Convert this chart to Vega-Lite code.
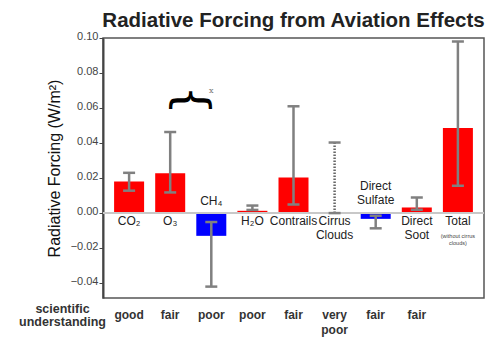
{
  "$schema": "https://vega.github.io/schema/vega-lite/v6.json",
  "autosize": "none",
  "width": 381,
  "height": 260,
  "padding": {"left": 103, "top": 38, "right": 9, "bottom": 41},
  "background": "white",
  "title": {
    "text": "Radiative Forcing from Aviation Effects",
    "fontSize": 20.5,
    "fontWeight": "bold",
    "font": "Liberation Sans",
    "color": "#222222",
    "anchor": "middle",
    "offset": -1
  },
  "config": {
    "view": {"stroke": "#555555", "strokeWidth": 1.5},
    "font": "Liberation Sans",
    "axisY": {"labelOverlap": false, "labelSeparation": 0, "labelFlush": false, "tickCount": 8}
  },
  "data": {
    "values": [
      {"cat": "CO2", "label": "CO₂", "value": 0.018, "lo": 0.0128, "hi": 0.023, "und": "good"},
      {"cat": "O3", "label": "O₃", "value": 0.0228, "lo": 0.0118, "hi": 0.0463, "und": "fair"},
      {"cat": "CH4", "label": "CH₄", "value": -0.013, "lo": -0.042, "hi": -0.0051, "und": "poor"},
      {"cat": "H2O", "label": "H₂O", "value": 0.0013, "lo": 0.0018, "hi": 0.0043, "und": "poor"},
      {"cat": "Contrails", "label": "Contrails", "value": 0.0203, "lo": 0.0049, "hi": 0.061, "und": "fair"},
      {"cat": "Cirrus", "label": ["Cirrus", "Clouds"], "value": null, "lo": 0, "hi": 0.0403, "und": ["very", "poor"]},
      {"cat": "Sulfate", "label": ["Direct", "Sulfate"], "value": -0.0033, "lo": -0.0087, "hi": -0.0015, "und": "fair"},
      {"cat": "Soot", "label": ["Direct", "Soot"], "value": 0.0032, "lo": 0.0019, "hi": 0.0089, "und": "fair"},
      {"cat": "Total", "label": "Total", "value": 0.0486, "lo": 0.0156, "hi": 0.098, "und": null, "note": ["(without cirrus", "clouds)"]}
    ]
  },
  "encoding": {
    "x": {
      "field": "cat",
      "type": "nominal",
      "sort": null,
      "scale": {"domain": ["CO2", "O3", "CH4", "H2O", "Contrails", "Cirrus", "Sulfate", "Soot", "Total"], "paddingInner": 0.27, "paddingOuter": 0.27},
      "axis": {
        "orient": "bottom",
        "labels": false,
        "ticks": false,
        "domain": false,
        "title": ["scientific", "understanding"],
        "titleFontSize": 12.5,
        "titleFontWeight": "bold",
        "titleColor": "#333333",
        "titleAlign": "center",
        "titleAnchor": "start",
        "titleBaseline": "top",
        "titleLineHeight": 13,
        "titleX": -41,
        "titleY": 4
      }
    }
  },
  "layer": [
    {
      "transform": [{"filter": "datum.value != null"}],
      "mark": {"type": "bar"},
      "encoding": {
        "y": {"field": "value", "type": "quantitative", "scale": {"domain": [-0.0485, 0.1], "nice": false, "zero": false},
          "axis": {
            "values": [-0.04, -0.02, 0, 0.02, 0.04, 0.06, 0.08, 0.1],
            "format": ".2f",
            "grid": false,
            "labelOverlap": false,
            "domainColor": "#444444",
            "domainWidth": 2,
            "tickColor": "#444444",
            "tickSize": 4,
            "labelColor": "#444444",
            "labelFontSize": 11,
            "labelPadding": 1,
            "labelOffset": -2,
            "title": "Radiative Forcing (W/m²)",
            "titleFontSize": 16,
            "titleFontWeight": "normal",
            "titleColor": "#111111",
            "titlePadding": 8
          }},
        "y2": {"datum": 0},
        "color": {"condition": {"test": "datum.value < 0", "value": "#0000ff"}, "value": "#ff0000"}
      }
    },
    {
      "mark": {"type": "rule", "color": "#c8c8c8", "strokeWidth": 2},
      "encoding": {"x": null, "y": {"datum": 0, "type": "quantitative"}}
    },
    {
      "mark": {"type": "rule", "strokeWidth": 2.5},
      "encoding": {
        "y": {"field": "lo", "type": "quantitative"},
        "y2": {"field": "hi"},
        "color": {"condition": {"test": "datum.value == null", "value": "#666666"}, "value": "#808080"},
        "strokeDash": {"condition": {"test": "datum.value == null", "value": [1.5, 1.5]}, "value": [1, 0]},
        "strokeWidth": {"condition": {"test": "datum.value == null", "value": 3}, "value": 2.5}
      }
    },
    {
      "mark": {"type": "tick", "color": "#808080", "thickness": 2.5, "size": 12, "opacity": 1},
      "encoding": {"y": {"field": "lo", "type": "quantitative"}}
    },
    {
      "mark": {"type": "tick", "color": "#808080", "thickness": 2.5, "size": 12, "opacity": 1},
      "encoding": {"y": {"field": "hi", "type": "quantitative"}}
    },
    {
      "transform": [{"filter": "datum.value == null || datum.value >= 0"}],
      "mark": {"type": "text", "baseline": "top", "dy": 3, "fontSize": 12, "color": "#222222", "lineHeight": 14},
      "encoding": {"y": {"datum": 0}, "text": {"field": "label"}}
    },
    {
      "transform": [{"filter": "datum.value != null && datum.value < 0 && !isArray(datum.label)"}],
      "mark": {"type": "text", "baseline": "bottom", "dy": -5, "fontSize": 12, "color": "#222222"},
      "encoding": {"y": {"datum": 0}, "text": {"field": "label"}}
    },
    {
      "transform": [{"filter": "datum.value != null && datum.value < 0 && isArray(datum.label)"}],
      "mark": {"type": "text", "baseline": "bottom", "dy": -20, "fontSize": 12, "color": "#222222", "lineHeight": 13.5},
      "encoding": {"y": {"datum": 0}, "text": {"field": "label"}}
    },
    {
      "transform": [{"filter": "datum.note != null"}],
      "mark": {"type": "text", "baseline": "top", "dy": 21, "fontSize": 5.5, "color": "#444444", "lineHeight": 7},
      "encoding": {"y": {"datum": 0}, "text": {"field": "note"}}
    },
    {
      "transform": [{"filter": "datum.und != null"}],
      "mark": {"type": "text", "baseline": "alphabetic", "dy": 21, "fontSize": 12, "fontWeight": "bold", "color": "#333333", "lineHeight": 15},
      "encoding": {"y": {"datum": -0.0485}, "text": {"field": "und"}}
    },
    {
      "data": {"values": [{"cat": "O3", "y": 0.0645, "t": "{"}]},
      "mark": {"type": "text", "angle": 90, "fontSize": 46, "font": "DejaVu Sans", "color": "#000000", "baseline": "middle", "align": "center"},
      "encoding": {"x": {"field": "cat", "type": "nominal", "bandPosition": 1.2}, "y": {"field": "y", "type": "quantitative"}, "text": {"field": "t"}}
    },
    {
      "data": {"values": [{"cat": "CH4", "y": 0.0695, "t": "x"}]},
      "mark": {"type": "text", "fontSize": 8, "font": "DejaVu Serif", "color": "#777777", "baseline": "middle"},
      "encoding": {"y": {"field": "y", "type": "quantitative"}, "text": {"field": "t"}}
    }
  ]
}
